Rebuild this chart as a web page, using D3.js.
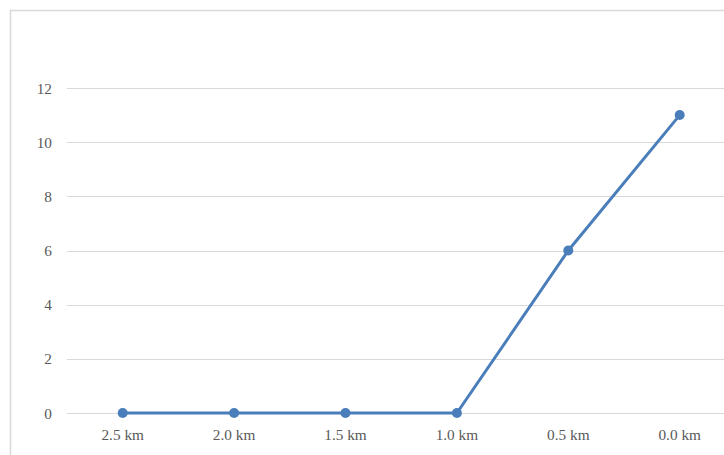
<!DOCTYPE html>
<html><head><meta charset="utf-8">
<script src="https://cdn.jsdelivr.net/npm/d3@7"></script>
<style>html,body{margin:0;padding:0;background:#fff;overflow:hidden}
text{font-family:"Liberation Serif","Times New Roman",serif;}</style>
</head><body>
<svg id="c" width="724" height="455"></svg>
<script>
const categories = ["2.5 km","2.0 km","1.5 km","1.0 km","0.5 km","0.0 km"];
const values = [0,0,0,0,6,11];
const yTicks = [0,2,4,6,8,10,12];

const svg = d3.select("#c");
const W = 724, H = 455;
svg.append("rect").attr("x",10.5).attr("y",10.5).attr("width",W+20).attr("height",H+20)
  .attr("fill","#fff").attr("stroke","#d9d9d9").attr("stroke-width",1.5);

const left = 67, step = 111.4;
const x = d3.scaleBand().domain(categories).range([left, left + step*categories.length]);
const y = d3.scaleLinear().domain([0,12]).range([413,88]);

const grid = svg.append("g");
grid.selectAll("line").data(yTicks).join("line")
  .attr("x1",left).attr("x2",W)
  .attr("y1",d=>Math.round(y(d))+0.5).attr("y2",d=>Math.round(y(d))+0.5)
  .attr("stroke","#d9d9d9").attr("stroke-width",1);

svg.append("g").selectAll("text").data(yTicks).join("text")
  .attr("x",52).attr("y",d=>y(d)).attr("text-anchor","end").attr("dominant-baseline","central")
  .attr("font-size",15.3).attr("fill","#595959").text(d=>d);

svg.append("g").selectAll("text").data(categories).join("text")
  .attr("x",d=>x(d)+x.bandwidth()/2).attr("y",434).attr("text-anchor","middle").attr("dominant-baseline","central")
  .attr("font-size",15.3).attr("fill","#595959").text(d=>d);

const color = "#4a7ebb";
const line = d3.line().x((d,i)=>x(categories[i])+x.bandwidth()/2).y(d=>y(d));
svg.append("path").datum(values).attr("d",line).attr("fill","none")
  .attr("stroke",color).attr("stroke-width",3).attr("stroke-linejoin","round").attr("stroke-linecap","round");
svg.append("g").selectAll("circle").data(values).join("circle")
  .attr("cx",(d,i)=>x(categories[i])+x.bandwidth()/2).attr("cy",d=>y(d)).attr("r",5)
  .attr("fill",color);
</script>
</body></html>
